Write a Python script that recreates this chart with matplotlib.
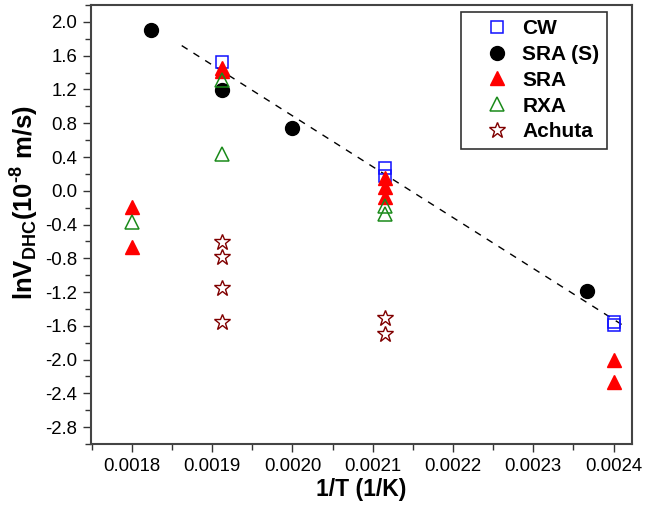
import matplotlib
matplotlib.use("Agg")
import matplotlib.pyplot as plt
from matplotlib.ticker import MultipleLocator, FormatStrFormatter

plt.rcParams['font.family'] = ['Liberation Sans', 'DejaVu Sans']
plt.rcParams['mathtext.fontset'] = 'custom'
plt.rcParams['mathtext.rm'] = 'Liberation Sans:bold'
plt.rcParams['mathtext.bf'] = 'Liberation Sans:bold'
plt.rcParams['mathtext.default'] = 'bf'

# Data
cw_x = [0.001912, 0.002115, 0.002115, 0.0024, 0.0024]
cw_y = [1.52, 0.27, 0.18, -1.56, -1.59]

sras_x = [0.001824, 0.001912, 0.0020, 0.002367]
sras_y = [1.91, 1.19, 0.74, -1.19]

sra_x = [0.0018, 0.0018, 0.001912, 0.001912, 0.002115, 0.002115, 0.002115, 0.0024, 0.0024]
sra_y = [-0.19, -0.67, 1.46, 1.42, 0.15, 0.05, -0.07, -2.01, -2.27]

rxa_x = [0.0018, 0.001912, 0.001912, 0.002115, 0.002115]
rxa_y = [-0.37, 1.31, 0.44, -0.18, -0.28]

ach_x = [0.001912, 0.001912, 0.001912, 0.001912, 0.002115, 0.002115]
ach_y = [-0.61, -0.79, -1.15, -1.56, -1.51, -1.70]

fit_x = [0.001862, 0.002411]
fit_y = [1.72, -1.59]

fig = plt.figure(figsize=(6.45, 5.08), dpi=100)
ax = fig.add_axes([0.1411, 0.126, 0.8388, 0.864])

ax.plot(fit_x, fit_y, ls=(0, (5, 5)), color='black', lw=1.0, zorder=1)

ax.plot(cw_x, cw_y, ls='none', marker='s', ms=8.5, mfc='none', mec='#1010ff', mew=1.1, label='CW', zorder=3)
ax.plot(sras_x, sras_y, ls='none', marker='o', ms=10, mfc='black', mec='black', label='SRA (S)', zorder=2)
ax.plot(sra_x, sra_y, ls='none', marker='^', ms=10, mfc='#ff0000', mec='#ff0000', label='SRA', zorder=3)
ax.plot(rxa_x, rxa_y, ls='none', marker='^', ms=10, mfc='none', mec='#1a8a1a', mew=1.1, label='RXA', zorder=4)
ax.plot(ach_x, ach_y, ls='none', marker='*', ms=12, mfc='none', mec='#800000', mew=1.0, label='Achuta', zorder=3)

ax.set_xlim(0.001749, 0.002423)
ax.set_ylim(-3.0, 2.2)

ax.xaxis.set_major_locator(MultipleLocator(0.0001))
ax.xaxis.set_minor_locator(MultipleLocator(0.00005))
ax.xaxis.set_major_formatter(FormatStrFormatter('%.4f'))
ax.yaxis.set_major_locator(MultipleLocator(0.4))
ax.yaxis.set_minor_locator(MultipleLocator(0.2))
ax.yaxis.set_major_formatter(FormatStrFormatter('%.1f'))
ax.set_yticks([v / 10 for v in range(-28, 21, 4)])

ax.tick_params(which='major', direction='out', length=6, width=1.0, labelsize=13.4, color='#333333', pad=4)
ax.tick_params(which='minor', direction='out', length=4, width=1.0, color='#333333')
for s in ax.spines.values():
    s.set_linewidth(1.5)
    s.set_color('#444444')

ax.set_xlabel('1/T (1/K)', fontsize=16.5, fontweight='bold', labelpad=2)
ax.set_ylabel(r'lnV$_{DHC}$(10$^{\text{-}8}$ m/s)', fontsize=18.5, fontweight='bold')
ax.yaxis.set_label_coords(-0.093, 0.55)

leg = ax.legend(loc='upper right', bbox_to_anchor=(0.953, 0.985),
                prop={'weight': 'bold', 'size': 15}, frameon=True, fancybox=False,
                edgecolor='black', handlelength=2.8, handletextpad=-0.2,
                labelspacing=0.33, borderpad=0.35, borderaxespad=0)
leg.get_frame().set_linewidth(1.2)

fig.savefig('out.png', dpi=100)
